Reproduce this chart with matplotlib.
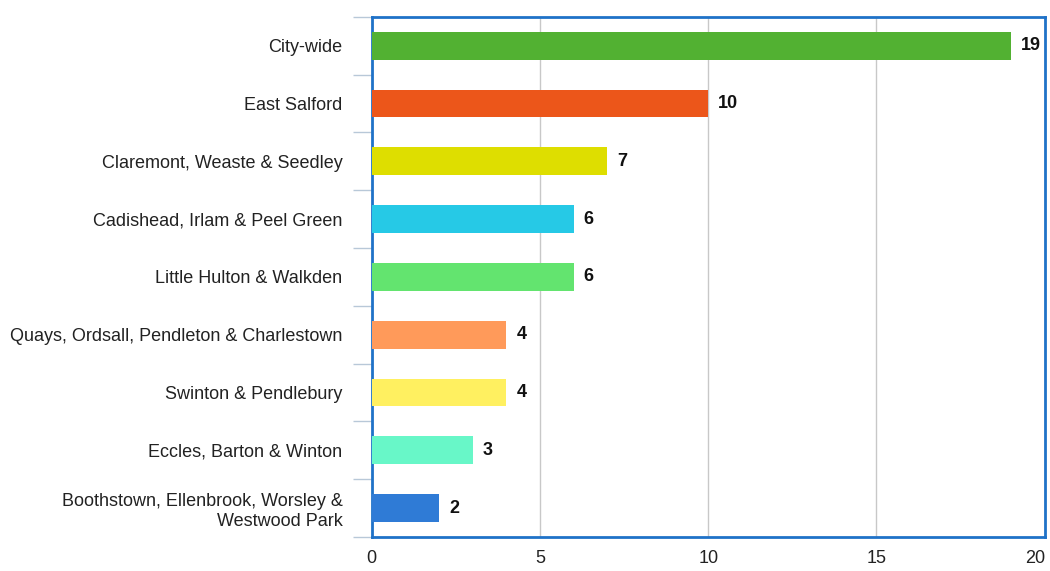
import matplotlib.pyplot as plt
import numpy as np

plt.rcParams["font.family"] = ["Liberation Sans", "DejaVu Sans"]

# === Data ===
areas = [
    "City-wide",
    "East Salford",
    "Claremont, Weaste & Seedley",
    "Cadishead, Irlam & Peel Green",
    "Little Hulton & Walkden",
    "Quays, Ordsall, Pendleton & Charlestown",
    "Swinton & Pendlebury",
    "Eccles, Barton & Winton",
    "Boothstown, Ellenbrook, Worsley &\nWestwood Park",
]
counts = [19, 10, 7, 6, 6, 4, 4, 3, 2]
colors = ["#52b132", "#ec561a", "#dede00", "#26c9e6", "#63e46f",
          "#ff9a5a", "#fff060", "#68f7c8", "#2f7bd6"]

# === Setup ===
fig = plt.figure(figsize=(10.5, 5.71), dpi=100)
ax = fig.add_axes([0.354, 0.0595, 0.641, 0.911])

y = np.arange(len(areas))
ax.barh(y, counts, height=0.48, color=colors, zorder=3)

for yi, v in zip(y, counts):
    ax.text(v + 0.3, yi, str(v), va="center", ha="left",
            fontsize=13, fontweight="bold", color="#111111")

# === Formatting ===
ax.set_xlim(0, 20)
ax.set_ylim(len(areas) - 0.5, -0.5)
ax.set_xticks([0, 5, 10, 15, 20])
ax.tick_params(axis="x", length=0, labelsize=13, labelcolor="#222222", pad=9)
ax.xaxis.grid(True, color="#c8c8c8", linewidth=1, zorder=0)
# keep the last x label inside the figure
ax.get_xticklabels()[-1].set_horizontalalignment("right")

ax.set_yticks(y)
ax.set_yticklabels(areas, fontsize=13, linespacing=1.25, color="#222222")
ax.tick_params(axis="y", length=0, pad=21)
# boundary ticks between categories
ax.set_yticks(np.arange(-0.5, len(areas)), minor=True)
ax.tick_params(axis="y", which="minor", length=14, width=1, color="#b8c8d8")

for s in ax.spines.values():
    s.set_color("#1f72c8")
    s.set_linewidth(2)

fig.savefig("out.png", dpi=100)
